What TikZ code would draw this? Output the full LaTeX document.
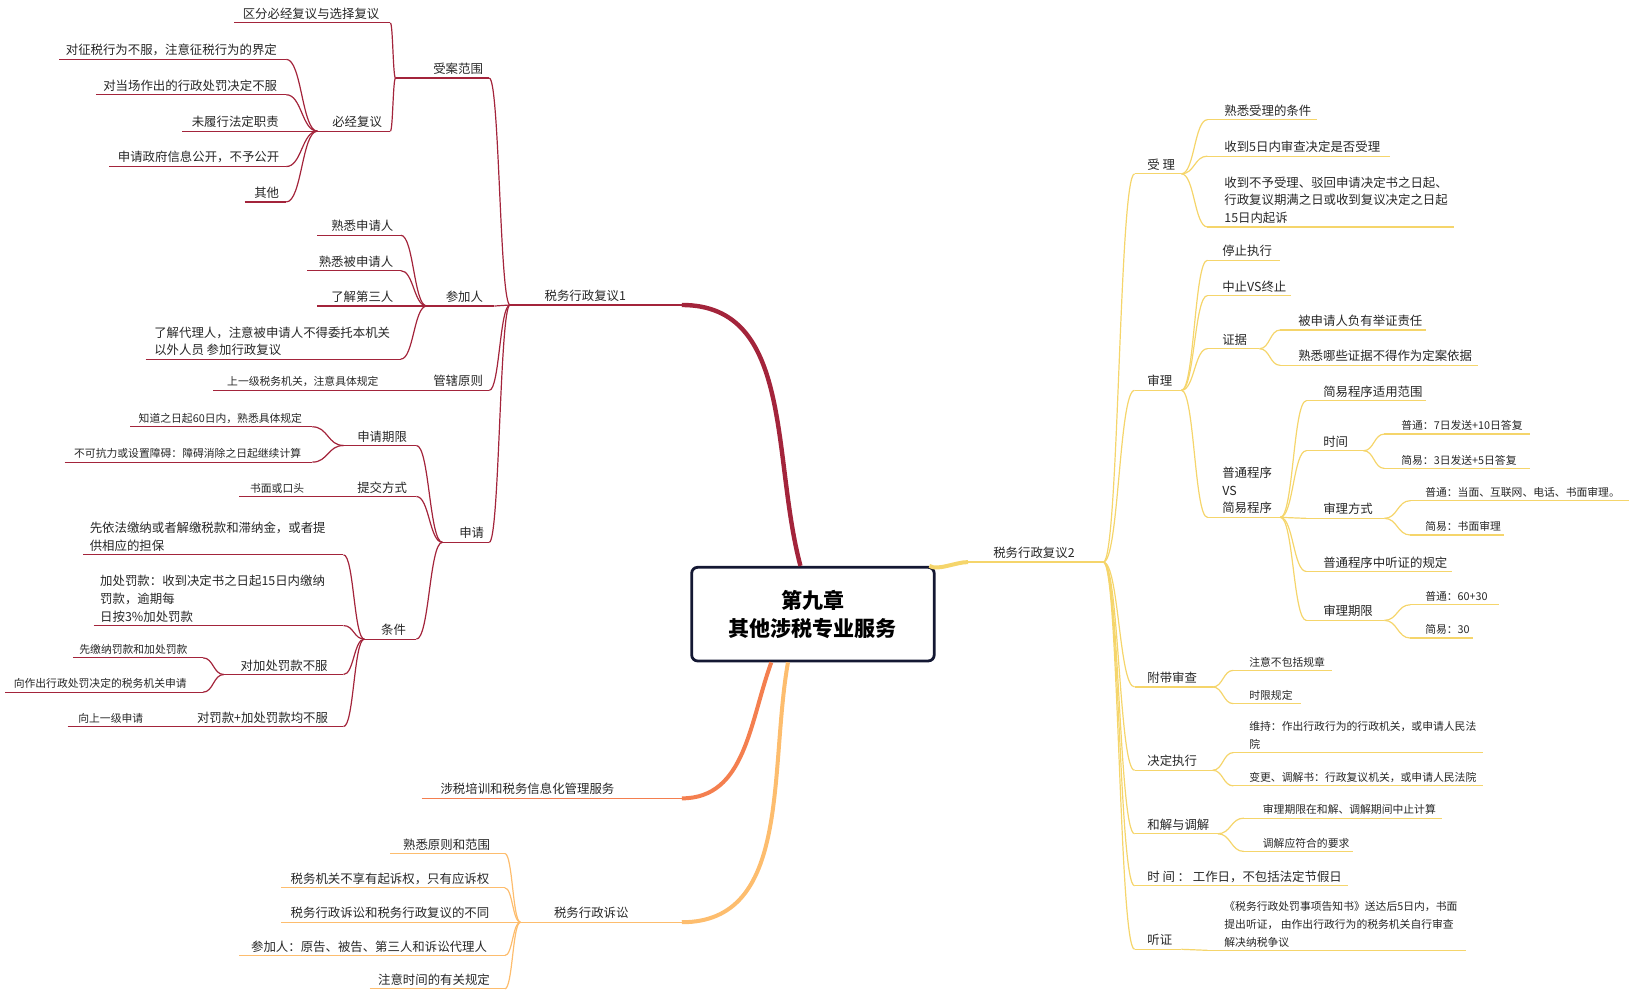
\documentclass[tikz,border=0pt]{standalone}
\usepackage{fontspec}
\usetikzlibrary{calc}
\setmainfont{Noto Sans CJK SC}
\definecolor{redb}{HTML}{A3243B}
\definecolor{orab}{HTML}{F47F4F}
\definecolor{lorb}{HTML}{FDBD6E}
\definecolor{yelb}{HTML}{F5D56B}
\definecolor{navy}{HTML}{141833}
\newcommand\sm{\fontsize{5.4}{7.6}\selectfont}
% underlined mind map node: name, left x, right x, y, text x, line style, text
\newcommand\mn[7]{%
  \coordinate (#1-l) at (#2,#4); \coordinate (#1-r) at (#3,#4);
  \draw[#6] (#1-l) -- (#1-r);
  \node[txt,anchor=south west] (#1) at (#5,#4) {#7};}
% links: left side and right side
\newcommand\cv[3]{\draw[#3] let \p1=(#1), \p2=(#2) in
  (\p1) .. controls ({(\x1+\x2)/2},\y1) and ({(\x1+\x2)/2},\y2) .. (\p2);}
\newcommand\lk[3]{\cv{#1-l}{#2-r}{#3}}
\newcommand\rk[3]{\cv{#1-r}{#2-l}{#3}}
\tikzset{
  txt/.style={text=black!85, inner sep=1.5pt, align=left, font=\fontsize{6.2}{8.8}\selectfont},
  rd/.style={redb, line width=0.6pt},
  og/.style={orab, line width=0.6pt},
  lo/.style={lorb, line width=0.6pt},
  ye/.style={yelb, line width=0.6pt},
}
\begin{document}
\begin{tikzpicture}[x=0.52pt, y=-0.52pt]
\useasboundingbox (0,0) rectangle (1565,959);

% root
\node[draw=navy, line width=1.4pt, rounded corners=3pt, fill=white, minimum width=233*0.52pt,
  minimum height=90*0.52pt, align=center, font=\fontsize{10.5}{14}\selectfont\bfseries] (root)
  at (781,590) {第九章\\其他涉税专业服务};

% ---- left: 税务行政复议1
\mn{fy1}{490}{655}{293}{520}{rd}{税务行政复议1}
\draw[redb, line width=2.2pt] (fy1-r) to[out=0,in=105] ([xshift=-12*0.52pt]root.north);

\mn{sa}{380}{470}{75}{413}{rd}{受案范围}
\mn{sa1}{225}{375}{22}{230}{rd}{区分必经复议与选择复议}
\mn{bj}{305}{375}{126}{316}{rd}{必经复议}
\mn{bj1}{57}{275}{57}{60}{rd}{对征税行为不服，注意征税行为的界定}
\mn{bj2}{92}{275}{91}{96}{rd}{对当场作出的行政处罚决定不服}
\mn{bj3}{175}{275}{126}{181}{rd}{未履行法定职责}
\mn{bj4}{105}{275}{160}{110}{rd}{申请政府信息公开，不予公开}
\mn{bj5}{235}{275}{194}{241}{rd}{其他}
\lk{fy1}{sa}{rd} \lk{sa}{sa1}{rd} \lk{sa}{bj}{rd}
\foreach \c in {bj1,bj2,bj3,bj4,bj5} {\lk{bj}{\c}{rd}}

\mn{cj}{410}{475}{294}{425}{rd}{参加人}
\mn{cj1}{305}{385}{226}{315}{rd}{熟悉申请人}
\mn{cj2}{295}{385}{260}{303}{rd}{熟悉被申请人}
\mn{cj3}{305}{385}{294}{315}{rd}{了解第三人}
\mn{cj4}{140}{385}{345}{145}{rd}{了解代理人，注意被申请人不得委托本机关\\以外人员 参加行政复议}
\lk{fy1}{cj}{rd}
\foreach \c in {cj1,cj2,cj3,cj4} {\lk{cj}{\c}{rd}}

\mn{gx}{375}{470}{375}{413}{rd}{管辖原则}
\mn{gx1}{205}{375}{375}{215}{rd}{\sm 上一级税务机关，注意具体规定}
\lk{fy1}{gx}{rd}

\mn{sq}{425}{470}{521}{438}{rd}{申请}
\mn{qx}{330}{400}{428}{340}{rd}{申请期限}
\mn{qx1}{125}{300}{410}{130}{rd}{\sm 知道之日起60日内，熟悉具体规定}
\mn{qx2}{62}{300}{444}{68}{rd}{\sm 不可抗力或设置障碍：障碍消除之日起继续计算}
\mn{tj}{330}{400}{477}{340}{rd}{提交方式}
\mn{tj1}{230}{330}{477}{237}{rd}{\sm 书面或口头}
\mn{tk}{350}{400}{614}{363}{rd}{条件}
\mn{tk1}{80}{330}{533}{83}{rd}{先依法缴纳或者解缴税款和滞纳金，或者提\\供相应的担保}
\mn{tk2}{90}{330}{601}{93}{rd}{加处罚款：收到决定书之日起15日内缴纳\\罚款，逾期每\\日按3\%加处罚款}
\mn{tk3}{215}{330}{648}{228}{rd}{对加处罚款不服}
\mn{tk31}{70}{195}{632}{73}{rd}{\sm 先缴纳罚款和加处罚款}
\mn{tk32}{5}{195}{665}{10}{rd}{\sm 向作出行政处罚决定的税务机关申请}
\mn{tk4}{175}{330}{698}{186}{rd}{对罚款+加处罚款均不服}
\mn{tk41}{65}{175}{698}{72}{rd}{\sm 向上一级申请}
\lk{fy1}{sq}{rd}
\foreach \c in {qx,tj,tk} {\lk{sq}{\c}{rd}}
\lk{qx}{qx1}{rd} \lk{qx}{qx2}{rd}
\foreach \c in {tk1,tk2,tk3,tk4} {\lk{tk}{\c}{rd}}
\lk{tk3}{tk31}{rd} \lk{tk3}{tk32}{rd}

% ---- left: 涉税培训
\mn{px}{405}{655}{767}{420}{og}{涉税培训和税务信息化管理服务}
\draw[orab, line width=2pt] (px-r) to[out=0,in=-110] ([xshift=-40*0.52pt]root.south);

% ---- left: 税务行政诉讼
\mn{ss}{500}{655}{886}{529}{lo}{税务行政诉讼}
\draw[lorb, line width=2pt] (ss-r) to[out=0,in=-100] ([xshift=-24*0.52pt]root.south);
\mn{ss1}{375}{485}{820}{384}{lo}{熟悉原则和范围}
\mn{ss2}{270}{485}{853}{276}{lo}{税务机关不享有起诉权，只有应诉权}
\mn{ss3}{270}{485}{886}{276}{lo}{税务行政诉讼和税务行政复议的不同}
\mn{ss4}{230}{485}{918}{238}{lo}{参加人：原告、被告、第三人和诉讼代理人}
\mn{ss5}{355}{485}{950}{360}{lo}{注意时间的有关规定}
\foreach \c in {ss1,ss2,ss3,ss4,ss5} {\lk{ss}{\c}{lo}}

% ---- right: 税务行政复议2
\mn{fy2}{930}{1060}{540}{951}{ye}{税务行政复议2}
\draw[yelb, line width=2pt] ([xshift=-6*0.52pt]root.north east) .. controls +(8*0.52pt,-5*0.52pt) and +(-12*0.52pt,0) .. (fy2-l);

\mn{sl}{1090}{1135}{167}{1099}{ye}{受 理}
\mn{sl1}{1160}{1265}{115}{1173}{ye}{熟悉受理的条件}
\mn{sl2}{1160}{1335}{150}{1173}{ye}{收到5日内审查决定是否受理}
\mn{sl3}{1160}{1397}{218}{1173}{ye}{收到不予受理、驳回申请决定书之日起、\\行政复议期满之日或收到复议决定之日起\\15日内起诉}
\rk{fy2}{sl}{ye}
\foreach \c in {sl1,sl2,sl3} {\rk{sl}{\c}{ye}}

\mn{sh}{1090}{1135}{375}{1099}{ye}{审理}
\mn{sh1}{1160}{1230}{250}{1171}{ye}{停止执行}
\mn{sh2}{1160}{1240}{284}{1171}{ye}{中止VS终止}
\mn{zj}{1160}{1210}{335}{1171}{ye}{证据}
\mn{zj1}{1230}{1370}{317}{1244}{ye}{被申请人负有举证责任}
\mn{zj2}{1230}{1420}{351}{1244}{ye}{熟悉哪些证据不得作为定案依据}
\mn{cx}{1160}{1230}{497}{1171}{ye}{普通程序\\VS\\简易程序}
\mn{cx1}{1255}{1370}{385}{1268}{ye}{简易程序适用范围}
\mn{sj}{1255}{1310}{433}{1268}{ye}{时间}
\mn{sj1}{1330}{1470}{417}{1343}{ye}{\sm 普通：7日发送+10日答复}
\mn{sj2}{1330}{1470}{450}{1343}{ye}{\sm 简易：3日发送+5日答复}
\mn{fs}{1255}{1330}{498}{1268}{ye}{审理方式}
\mn{fs1}{1355}{1565}{481}{1366}{ye}{\sm 普通：当面、互联网、电话、书面审理。}
\mn{fs2}{1355}{1445}{514}{1366}{ye}{\sm 简易：书面审理}
\mn{tz}{1255}{1395}{549}{1268}{ye}{普通程序中听证的规定}
\mn{qj}{1255}{1330}{596}{1268}{ye}{审理期限}
\mn{qj1}{1355}{1440}{581}{1366}{ye}{\sm 普通：60+30}
\mn{qj2}{1355}{1415}{613}{1366}{ye}{\sm 简易：30}
\rk{fy2}{sh}{ye}
\foreach \c in {sh1,sh2,zj,cx} {\rk{sh}{\c}{ye}}
\rk{zj}{zj1}{ye} \rk{zj}{zj2}{ye}
\foreach \c in {cx1,sj,fs,tz,qj} {\rk{cx}{\c}{ye}}
\rk{sj}{sj1}{ye} \rk{sj}{sj2}{ye}
\rk{fs}{fs1}{ye} \rk{fs}{fs2}{ye}
\rk{qj}{qj1}{ye} \rk{qj}{qj2}{ye}

\mn{fd}{1090}{1165}{660}{1099}{ye}{附带审查}
\mn{fd1}{1185}{1280}{644}{1197}{ye}{\sm 注意不包括规章}
\mn{fd2}{1185}{1250}{676}{1197}{ye}{\sm 时限规定}
\mn{jd}{1090}{1165}{740}{1099}{ye}{决定执行}
\mn{jd1}{1185}{1425}{723}{1197}{ye}{\sm 维持：作出行政行为的行政机关，或申请人民法\\\sm 院}
\mn{jd2}{1185}{1425}{755}{1197}{ye}{\sm 变更、调解书：行政复议机关，或申请人民法院}
\mn{hj}{1090}{1170}{801}{1099}{ye}{和解与调解}
\mn{hj1}{1195}{1385}{786}{1210}{ye}{\sm 审理期限在和解、调解期间中止计算}
\mn{hj2}{1195}{1300}{818}{1210}{ye}{\sm 调解应符合的要求}
\mn{sj3}{1090}{1295}{851}{1099}{ye}{时 间 ： 工作日，不包括法定节假日}
\mn{tzh}{1090}{1135}{912}{1099}{ye}{听证}
\mn{tzh1}{1160}{1408}{913}{1173}{ye}{\sm 《税务行政处罚事项告知书》送达后5日内，书面\\\sm 提出听证， 由作出行政行为的税务机关自行审查\\\sm 解决纳税争议}
\foreach \c in {fd,jd,hj,sj3,tzh} {\rk{fy2}{\c}{ye}}
\rk{fd}{fd1}{ye} \rk{fd}{fd2}{ye}
\rk{jd}{jd1}{ye} \rk{jd}{jd2}{ye}
\rk{hj}{hj1}{ye} \rk{hj}{hj2}{ye}
\rk{tzh}{tzh1}{ye}
\end{tikzpicture}
\end{document}
